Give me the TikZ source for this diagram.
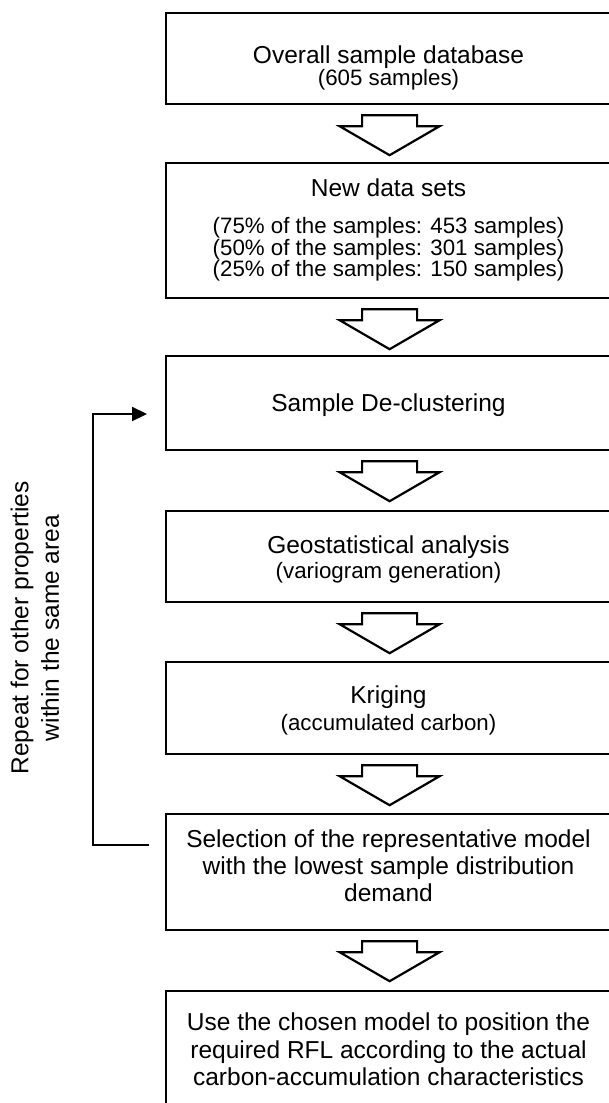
\documentclass[tikz,border=0pt]{standalone}
\usepackage{fontspec}
\setmainfont{Liberation Sans}
\usetikzlibrary{arrows.meta,calc}
\newcommand\blockarrow[1]{\draw[hollow] ($(#1.south)+(-27.5,10)$) -- ++(55,0) -- ++(0,11) -- ++(22.5,0) -- ++(-50,29) -- ++(-50,-29) -- ++(22.5,0) -- cycle;}
\begin{document}
\begin{tikzpicture}[x=1pt,y=-1pt,
 box/.style={draw=black,line width=2.2pt,minimum width=447pt,anchor=north west,inner sep=0pt},
 big/.style={font=\fontsize{24.5}{28}\selectfont,anchor=base,inner sep=0pt},
 small/.style={font=\fontsize{22.3}{26}\selectfont,anchor=base,inner sep=0pt},
 side/.style={font=\fontsize{24.5}{28}\selectfont,rotate=90,anchor=center,inner sep=0pt},
 hollow/.style={draw=black,line width=2.2pt,fill=white,line join=miter},
 loopline/.style={draw=black,line width=2.2pt,-{Triangle[length=15pt,width=14pt]}}]
\useasboundingbox (0,0) rectangle (609,1103);
\clip (0,0) rectangle (609,1103);
\fill[white] (0,0) rectangle (609,1103);

% boxes
\node[box,minimum height=91pt]  (b1) at (165,12)  {};
\node[box,minimum height=135pt] (b2) at (165,162) {};
\node[box,minimum height=94pt]  (b3) at (165,355) {};
\node[box,minimum height=91pt]  (b4) at (165,510) {};
\node[box,minimum height=92pt]  (b5) at (165,661) {};
\node[box,minimum height=116pt] (b6) at (165,813) {};
\node[box,minimum height=140pt] (b7) at (165,990) {};

% texts
\node[big]   (t1a) at (388.5,63.5) {Overall sample database};
\node[small] (t1b) at (388.5,85)   {(605 samples)};
\node[big]   (t2a) at (388.5,196.5) {New data sets};
\node[small] (t2b) at (388.5,233) {(75\% of the samples: 453 samples)};
\node[small] (t2c) at (388.5,255) {(50\% of the samples: 301 samples)};
\node[small] (t2d) at (388.5,276) {(25\% of the samples: 150 samples)};
\node[big]   (t3a) at (388.5,411.5) {Sample De-clustering};
\node[big]   (t4a) at (388.5,553.5) {Geostatistical analysis};
\node[small] (t4b) at (388.5,578)   {(variogram generation)};
\node[big]   (t5a) at (388.5,703.5) {Kriging};
\node[small] (t5b) at (388.5,730)   {(accumulated carbon)};
\node[big]   (t6a) at (388.5,847.5) {Selection of the representative model};
\node[big]   (t6b) at (388.5,874.5) {with the lowest sample distribution};
\node[big]   (t6c) at (388.5,901.5) {demand};
\node[big]   (t7a) at (388.5,1030.5) {Use the chosen model to position the};
\node[big]   (t7b) at (388.5,1058.5) {required RFL according to the actual};
\node[big]   (t7c) at (388.5,1085.5) {carbon-accumulation characteristics};

% block arrows
\blockarrow{b1}
\blockarrow{b2}
\blockarrow{b3}
\blockarrow{b4}
\blockarrow{b5}
\blockarrow{b6}

% feedback loop
\coordinate (fs) at (149,845);
\coordinate (fe) at (147,414);
\draw[loopline] (fs) -- ++(-56,0) |- (fe);
\node[side] (r1) at (22,628) {Repeat for other properties};
\node[side] (r2) at (50,628) {within the same area};
\end{tikzpicture}
\end{document}
